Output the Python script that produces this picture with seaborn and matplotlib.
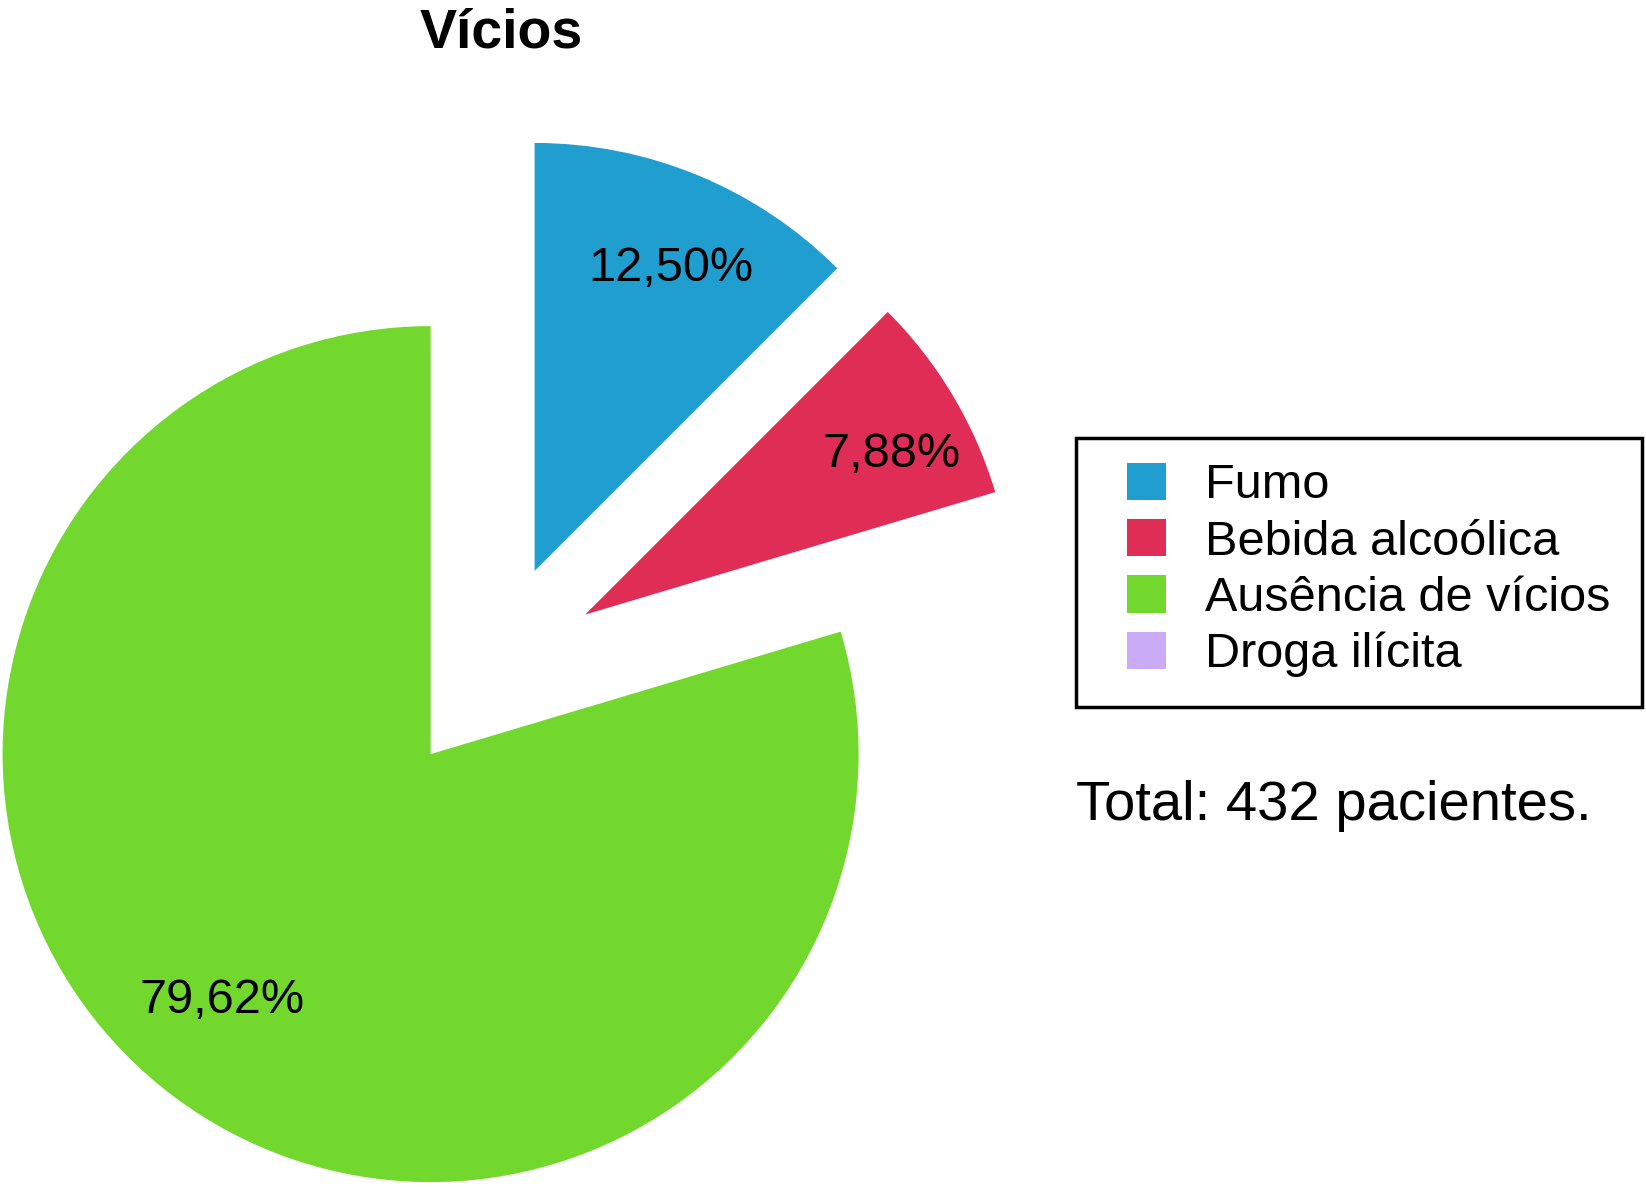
import matplotlib
matplotlib.use("Agg")
import matplotlib.pyplot as plt
from matplotlib.patches import Rectangle
import numpy as np
import seaborn as sns

# data
categories = ["Fumo", "Bebida alcoólica", "Ausência de vícios", "Droga ilícita"]
percentages = [12.50, 7.88, 79.62, 0.0]
total_pacientes = 432
title = "Vícios"

sns.set_theme(style="white")
plt.rcParams["font.family"] = ["Liberation Sans", "DejaVu Sans"]
plt.rcParams["text.color"] = "black"

colors = sns.color_palette(["#219ed0", "#e02d55", "#73d82d", "#c9abf8"])

# canvas in pixel units, y pointing up
W, H = 1646, 1187
fig = plt.figure(figsize=(W / 100, H / 100), dpi=100)
ax = fig.add_axes([0, 0, 1, 1])

R = 428


def fmt(p):
    return f"{p:.2f}%".replace(".", ",") if p > 0.01 else ""


wedges, texts, autotexts = ax.pie(
    percentages, colors=colors, startangle=90, counterclock=False,
    explode=[0.248 * R] * len(percentages), center=(494, H - 669), radius=R,
    autopct=fmt, pctdistance=0.78, frame=True,
    wedgeprops={"linewidth": 0},
    textprops={"fontsize": 35, "color": "black"},
)

# labels sit at slightly different radii / angles in the original
label_dist = [0.785, 0.812, 0.744, 0.78]
label_turn = [-1.45, -2.54, -4.14, 0.0]
for t, w, d, a in zip(autotexts, wedges, label_dist, label_turn):
    th = np.deg2rad((w.theta1 + w.theta2) / 2 + a)
    cx, cy = w.center
    t.set_position((cx + d * w.r * np.cos(th), cy + d * w.r * np.sin(th)))
    t.set_va("center_baseline")

ax.set_xlim(0, W)
ax.set_ylim(0, H)
ax.set_aspect("equal")
ax.axis("off")

ax.text(501, H - 47, title, ha="center", va="baseline",
        fontsize=40, fontweight="bold")

# legend, frame drawn separately to get the uneven padding
leg = ax.legend(
    wedges, categories, loc="upper left",
    bbox_to_anchor=(1127, H - 463), bbox_transform=ax.transData,
    fontsize=35, frameon=False, borderaxespad=0, borderpad=0,
    handlelength=0.8, handleheight=0.8, handletextpad=0.8,
    labelspacing=0.22,
)
ax.add_patch(Rectangle((1076, H - 706.5), 566, 269, fill=False,
                       edgecolor="black", linewidth=2.5, clip_on=False))

ax.text(1076, H - 820, f"Total: {total_pacientes} pacientes.",
        ha="left", va="baseline", fontsize=40.5)

fig.savefig("out.png", dpi=100, facecolor="white")
